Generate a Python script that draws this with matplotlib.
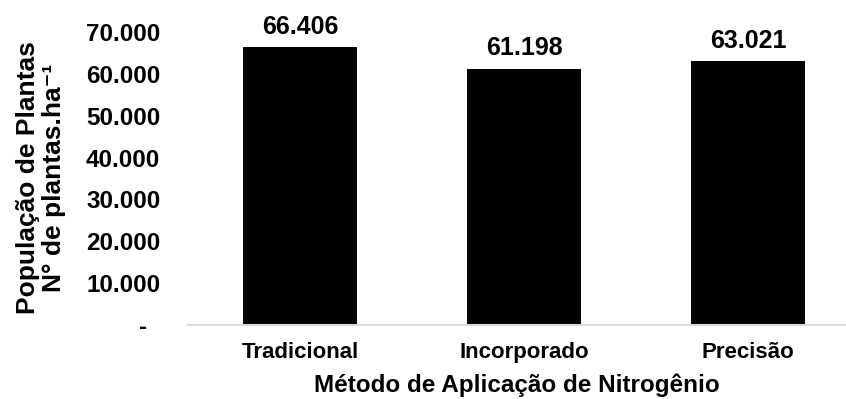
import matplotlib
matplotlib.use("Agg")
import matplotlib.pyplot as plt
from matplotlib.ticker import FuncFormatter
from matplotlib.transforms import ScaledTranslation

plt.rcParams["font.family"] = ["Liberation Sans", "DejaVu Sans"]
plt.rcParams["font.weight"] = "bold"

# Plant population per nitrogen application method
metodos = ["Tradicional", "Incorporado", "Precisão"]
populacao = [66406, 61198, 63021]
yticks = [0, 10000, 20000, 30000, 40000, 50000, 60000, 70000]


def fmt_milhar(v, pos=None):
    # Excel-style accounting format: dash for zero, dot as thousands separator
    if v == 0:
        return "-"
    return f"{v:,.0f}".replace(",", ".")


fig = plt.figure(figsize=(8.46, 3.99), dpi=100)
ax = fig.add_axes([188 / 846, 1 - 325 / 399, 1 - 188 / 846, (325 - 32) / 399])

x = range(len(metodos))
ax.bar(x, populacao, width=0.51, color="black", zorder=2)
for xi, v in zip(x, populacao):
    ax.text(xi, v + 2000, fmt_milhar(v), ha="center", va="bottom",
            fontsize=18, fontweight="bold")

ax.set_xlim(-0.5, -0.5 + 658 / 224)
ax.set_ylim(0, 70000)
ax.set_yticks(yticks)
ax.yaxis.set_major_formatter(FuncFormatter(fmt_milhar))
ax.set_xticks(list(x))
ax.set_xticklabels(metodos)

ax.tick_params(axis="both", length=0)
ax.tick_params(axis="y", labelsize=17.5, pad=20)
ax.tick_params(axis="x", labelsize=16, pad=12)
for lab in ax.get_xticklabels() + ax.get_yticklabels():
    lab.set_fontweight("bold")

for side in ["top", "right", "left"]:
    ax.spines[side].set_visible(False)
ax.spines["bottom"].set_color("#d9d9d9")
ax.spines["bottom"].set_linewidth(1.5)

ax.set_xlabel("Método de Aplicação de Nitrogênio", fontsize=17.5,
              fontweight="bold", labelpad=8)

# two-line y title placed by hand so it sits close to the left edge
fig.text(41 / 846, 1 - 178 / 399, "População de Plantas\nN° de plantas.ha⁻¹",
         rotation=90, ha="center", va="center", multialignment="center",
         fontsize=19, fontweight="bold", linespacing=1.15)

# the zero dash sits a little left of the number column
fig.canvas.draw()
zero_lab = ax.yaxis.get_major_ticks()[0].label1
zero_lab.set_transform(zero_lab.get_transform()
                       + ScaledTranslation(-0.13, 0, fig.dpi_scale_trans))

fig.savefig("out.png", dpi=100)
